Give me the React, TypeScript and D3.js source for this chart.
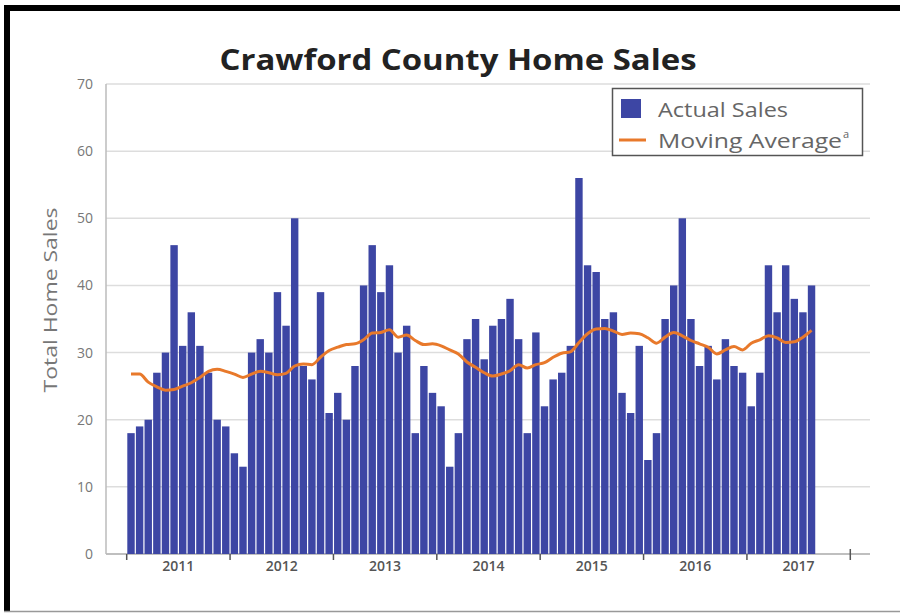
import React from "react";
import * as d3 from "d3";

const years = ["2011", "2012", "2013", "2014", "2015", "2016", "2017"];
const yTicks = [0, 10, 20, 30, 40, 50, 60, 70];
const sales = [
  18, 19, 20, 27, 30, 46, 31, 36, 31, 27, 20, 19,
  15, 13, 30, 32, 30, 39, 34, 50, 28, 26, 39, 21,
  24, 20, 28, 40, 46, 39, 43, 30, 34, 18, 28, 24,
  22, 13, 18, 32, 35, 29, 34, 35, 38, 32, 18, 33,
  22, 26, 27, 31, 56, 43, 42, 35, 36, 24, 21, 31,
  14, 18, 35, 40, 50, 35, 28, 31, 26, 32, 28, 27,
  22, 27, 43, 36, 43, 38, 36, 40,
];
const movingAvg = [
  26.8, 26.8, 25.6, 24.9, 24.4, 24.5, 25.0, 25.5, 26.3, 27.2, 27.5, 27.2, 26.8,
  26.3, 26.8, 27.2, 27.0, 26.7, 26.9, 28.0, 28.3, 28.2, 29.3, 30.3, 30.8, 31.2, 31.3,
  31.9, 32.9, 33.0, 33.4, 32.3, 32.6, 31.8, 31.2, 31.3, 31.0, 30.4, 29.8, 28.6, 27.8,
  27.0, 26.5, 26.8, 27.3, 28.2, 27.7, 28.2, 28.5, 29.3, 29.9, 30.1, 31.5, 32.8, 33.5,
  33.6, 33.2, 32.7, 32.9, 32.8, 32.2, 31.4, 32.3, 33.0, 32.5, 31.8, 31.3, 30.8, 29.8,
  30.4, 30.9, 30.4, 31.4, 31.9, 32.5, 32.2, 31.5, 31.6, 32.3, 33.3,
];

const W = 900;
const H = 613;
const FONT = "'Open Sans', 'Noto Sans', sans-serif";

export default function App() {
  const x = d3.scaleLinear().domain([0, years.length * 12]).range([126.7, 850.3]);
  const y = d3.scaleLinear().domain([0, 70]).range([554, 84]);
  const line = d3
    .line<number>()
    .x((_, i) => x(i + 0.5))
    .y((d) => y(d))
    .curve(d3.curveMonotoneX);
  const step = x(1) - x(0);

  return (
    <div style={{ position: "absolute", left: 0, top: 0 }}>
      <svg width={W} height={H} style={{ display: "block", background: "#fff" }}>
        {/* frame */}
        <rect x={4} y={5} width={W - 4} height={6} fill="#000" />
        <rect x={4} y={5} width={6} height={606} fill="#000" />
        <line x1={4} x2={W} y1={611.5} y2={611.5} stroke="#999" strokeWidth={1.5} />

        {/* title */}
        <text
          x={458}
          y={70}
          textAnchor="middle"
          fontFamily={FONT}
          fontWeight={700}
          fontSize={28}
          fill="#222"
          textLength={477}
          lengthAdjust="spacingAndGlyphs"
        >
          Crawford County Home Sales
        </text>

        {/* gridlines */}
        {yTicks.map((t) => (
          <line key={t} x1={106} x2={870} y1={y(t)} y2={y(t)} stroke={t === 0 ? "#aaa" : "#ddd"} strokeWidth={1.5} />
        ))}
        <line x1={106} x2={106} y1={y(70)} y2={y(0)} stroke="#bbb" strokeWidth={1.5} />

        {/* y tick labels */}
        {yTicks.map((t) => (
          <text key={t} x={93} y={y(t) + 5} textAnchor="end" fontFamily={FONT} fontSize={14} fill="#777">
            {t}
          </text>
        ))}

        {/* y axis title */}
        <text
          transform="translate(57,300) rotate(-90)"
          textAnchor="middle"
          fontFamily={FONT}
          fontSize={18}
          fill="#777"
          textLength={185}
          lengthAdjust="spacingAndGlyphs"
        >
          Total Home Sales
        </text>

        {/* bars */}
        {sales.map((v, i) => (
          <rect key={i} x={x(i) + 0.6} width={step - 1.2} y={y(v)} height={y(0) - y(v)} fill="#3d46a4" />
        ))}

        {/* moving average */}
        <path d={line(movingAvg) || ""} fill="none" stroke="#e8792b" strokeWidth={3} strokeLinejoin="round" />

        {/* x ticks */}
        {d3.range(years.length + 1).map((k) => (
          <line
            key={k}
            x1={x(k * 12)}
            x2={x(k * 12)}
            y1={k === years.length ? 549 : 554}
            y2={560}
            stroke="#555"
            strokeWidth={1.5}
          />
        ))}
        {years.map((yr, k) => (
          <text key={yr} x={x(k * 12 + 6)} y={571} textAnchor="middle" fontFamily={FONT} fontWeight={600} fontSize={14} fill="#555">
            {yr}
          </text>
        ))}

        {/* legend */}
        <rect x={612.5} y={88.5} width={250} height={67} fill="#fff" stroke="#555" strokeWidth={1.5} />
        <rect x={621} y={99} width={20} height={19} fill="#3d46a4" />
        <line x1={619} x2={646} y1={140} y2={140} stroke="#e8792b" strokeWidth={3} />
        <text x={658} y={117} fontFamily={FONT} fontSize={20} fill="#666" textLength={130} lengthAdjust="spacingAndGlyphs">
          Actual Sales
        </text>
        <text x={658} y={148} fontFamily={FONT} fontSize={20} fill="#666" textLength={184} lengthAdjust="spacingAndGlyphs">
          Moving Average
        </text>
        <text x={843} y={138} fontFamily={FONT} fontSize={11} fill="#666">
          a
        </text>
      </svg>
    </div>
  );
}
